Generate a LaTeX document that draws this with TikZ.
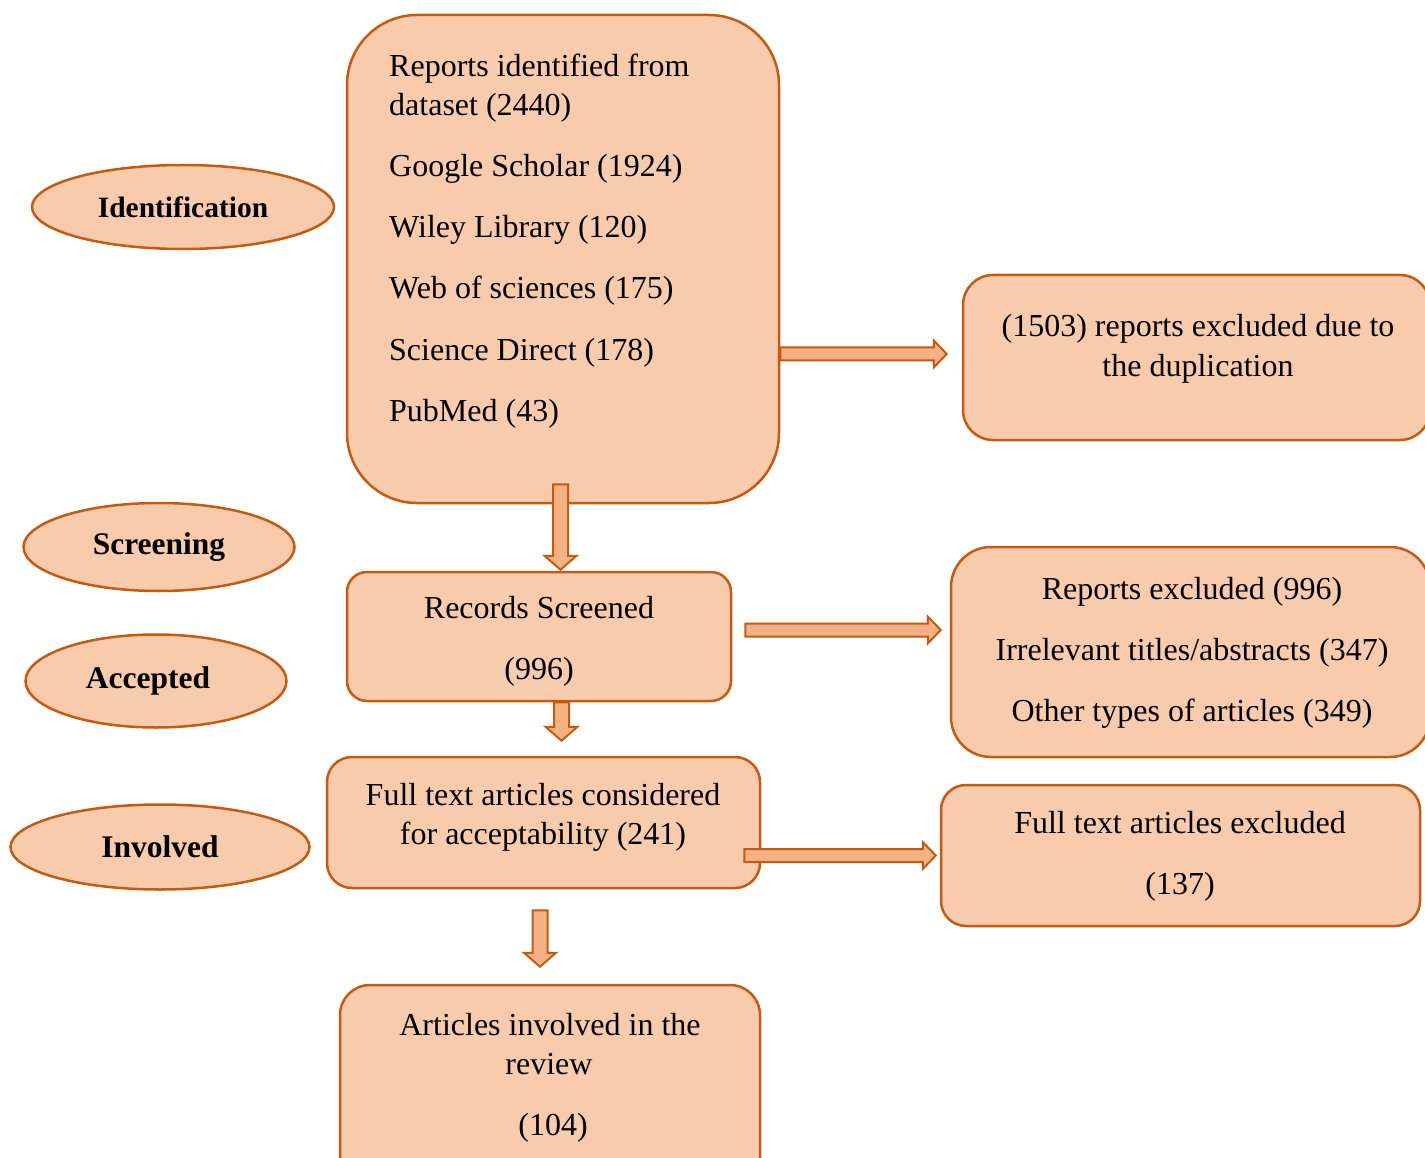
\documentclass[tikz,border=0pt]{standalone}
\usepackage{fontspec}
\setmainfont{Liberation Serif}
\usetikzlibrary{shapes.geometric,calc}
\definecolor{boxfill}{HTML}{F8CBAD}
\definecolor{boxline}{HTML}{C55A11}
\definecolor{arrfill}{HTML}{F4B183}
\newcommand\harr[2]{%
  \draw[blockarr] ($(#1)+(0,-6.5)$) -- ($(#2)+(-13,-6.5)$) -- ($(#2)+(-13,-13.5)$) -- (#2)
    -- ($(#2)+(-13,13.5)$) -- ($(#2)+(-13,6.5)$) -- ($(#1)+(0,6.5)$) -- cycle;}
\newcommand\varr[2]{%
  \draw[blockarr] ($(#1)+(-7.5,0)$) -- ($(#2)+(-7.5,-14)$) -- ($(#2)+(-16,-14)$) -- (#2)
    -- ($(#2)+(16,-14)$) -- ($(#2)+(7.5,-14)$) -- ($(#1)+(7.5,0)$) -- cycle;}
\begin{document}
\begin{tikzpicture}[x=1pt,y=-1pt,
  box/.style={draw=boxline, fill=boxfill, line width=2.5pt, inner sep=0pt},
  oval/.style={ellipse, draw=boxline, fill=boxfill, line width=2.5pt, inner sep=0pt,
    font=\fontsize{31.5}{36}\selectfont\bfseries},
  blockarr/.style={draw=boxline, fill=arrfill, line width=2pt, line join=miter},
  txt/.style={inner sep=0pt, font=\fontsize{32}{38}\selectfont, anchor=base},
  txtl/.style={txt, anchor=base west}]
\useasboundingbox (0,0) rectangle (1425,1158);
\clip (0,0) rectangle (1425,1158);

% boxes
\node[box, rounded corners=70pt, minimum width=432pt, minimum height=488pt] (A) at (563,259) {};
\node[box, rounded corners=30pt, minimum width=467pt, minimum height=165pt] (B) at (1196.5,357.5) {};
\node[box, rounded corners=20pt, minimum width=384pt, minimum height=129pt] (C) at (539,636.5) {};
\node[box, rounded corners=40pt, minimum width=479pt, minimum height=210pt] (D) at (1190.5,652) {};
\node[box, rounded corners=25pt, minimum width=433pt, minimum height=131pt] (E) at (543.5,822.5) {};
\node[box, rounded corners=25pt, minimum width=479pt, minimum height=141pt] (F) at (1180.5,855.5) {};
\node[box, rounded corners=30pt, minimum width=420pt, minimum height=205pt] (G) at (550,1087.5) {};

% stage ellipses
\node[oval, minimum width=302pt, minimum height=84pt, font=\fontsize{29.5}{34}\selectfont\bfseries] (idn) at (183,207) {Identification};
\node[oval, minimum width=271pt, minimum height=88pt] (scr) at (159,547) {Screening};
\node[oval, minimum width=261pt, minimum height=93pt] (acc) at (156,681) {Accepted\kern16pt};
\node[oval, minimum width=299pt, minimum height=85pt] (inv) at (160,847) {Involved};

% arrow end points
\coordinate (ab1) at ($(A.east)+(0,95)$);
\coordinate (ab2) at ($(B.west)+(-15,-3.5)$);
\coordinate (ac1) at ($(A.south)+(-2.5,-20)$);
\coordinate (ac2) at ($(C.north)+(21.5,-1)$);
\coordinate (cd1) at ($(C.east)+(13,-6.5)$);
\coordinate (cd2) at ($(D.west)+(-9,-22)$);
\coordinate (ce1) at ($(C.south)+(22.5,0)$);
\coordinate (ce2) at ($(E.north)+(18,-15)$);
\coordinate (ef1) at ($(E.east)+(-17,33)$);
\coordinate (ef2) at ($(F.west)+(-4,0)$);
\coordinate (eg1) at ($(E.south)+(-3.5,21)$);
\coordinate (eg2) at ($(G.north)+(-10,-17)$);

\harr{ab1}{ab2}
\varr{ac1}{ac2}
\harr{cd1}{cd2}
\varr{ce1}{ce2}
\harr{ef1}{ef2}
\varr{eg1}{eg2}

% texts
\node[txtl] (a1) at (389,77) {Reports identified from};
\node[txtl] (a2) at (389,116) {dataset (2440)};
\node[txtl] (a3) at (389,177) {Google Scholar (1924)};
\node[txtl] (a4) at (389,238) {Wiley Library (120)};
\node[txtl] (a5) at (389,299) {Web of sciences (175)};
\node[txtl] (a6) at (389,360) {Science Direct (178)};
\node[txtl] (a7) at (389,421) {PubMed (43)};

\node[txt] (b1) at (1198,337) {(1503) reports excluded due to};
\node[txt] (b2) at (1198,377) {the duplication};

\node[txt] (c1) at (539,618) {Records Screened};
\node[txt] (c2) at (539,679) {(996)};

\node[txt] (d1) at (1192,599) {Reports excluded (996)};
\node[txt] (d2) at (1192,660) {Irrelevant titles/abstracts (347)};
\node[txt] (d3) at (1192,721) {Other types of articles (349)};

\node[txt] (e1) at (543,805) {Full text articles considered};
\node[txt] (e2) at (543,844) {for acceptability (241)};

\node[txt] (f1) at (1180,833) {Full text articles excluded};
\node[txt] (f2) at (1180,894) {(137)};

\node[txt] (g1) at (550,1035) {Articles involved in the};
\node[txt] (g2) at (549,1074) {review};
\node[txt] (g3) at (553,1135) {(104)};
\end{tikzpicture}
\end{document}
